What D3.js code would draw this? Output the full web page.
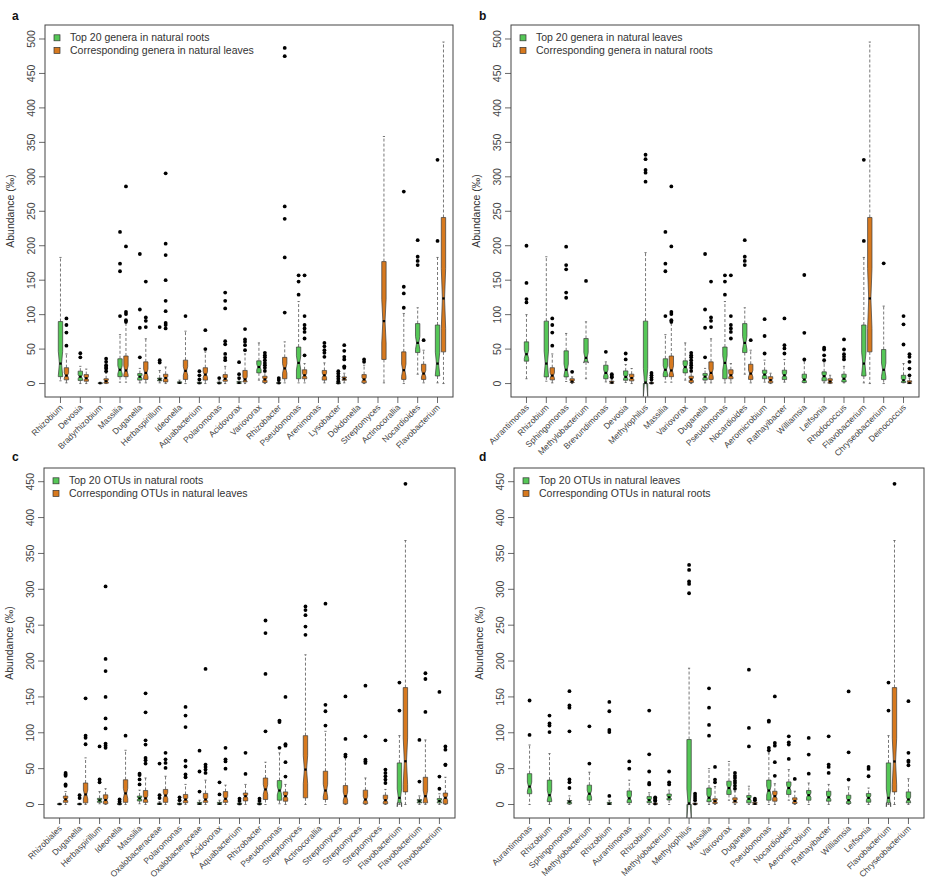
<!DOCTYPE html>
<html><head><meta charset="utf-8">
<script src="https://cdn.jsdelivr.net/npm/d3@7/dist/d3.min.js"></script>
<style>
body{margin:0;background:#fff;}
svg{display:block;font-family:"Liberation Sans",Arial,Helvetica,sans-serif;}
</style></head>
<body>
<svg id="chart" width="936" height="891"></svg>
<script>
// ---------- DATA: each box = [lowerWhisker, Q1, median, Q3, upperWhisker, [outliers]] ----------
const catsA = ["Rhizobium","Devosia","Bradyrhizobium","Massilia","Duganella","Herbaspirillum","Ideonella","Aquabacterium","Polaromonas","Acidovorax","Variovorax","Rhizobacter","Pseudomonas","Arenimonas","Lysobacter","Dokdonella","Streptomyces","Actinocorallia","Nocardioides","Flavobacterium"];
const greenA = [
 [4,10,29,90,183,[]],[0,4.5,10,18,25,[44,38]],[0,0,0.5,1,2,[]],[2,10,20,36,71,[220,174,163,98]],
 [1,5,10,14.5,22,[188,107.5,81,38]],[1,4,6,8,19,[82,34,30.5]],[0,0.5,1,2.5,5,[]],[0,0,0.5,2,4,[18,12,6]],
 [0,0,0.5,2,4,[8]],[0,0,1,3,6,[31,13.6,8]],[5,15.5,24,33,59,[]],[0,0,0.5,1.5,3,[8,5]],
 [1,7,30,53,119,[157,148,129]],null,[0,0,0.5,1,2,[18,14.5,10.7,7,3.4]],null,
 null,null,[13.6,45,59,87,110,[208,184,178,172]],[1,11,29,85,183,[324.6,207]]
];
const orangeA = [
 [1,5.4,11.6,23,43,[94.5,85,74,55]],[0,3.4,7.7,13,21,[]],[0,0.5,3.4,7,15,[36,31.5,26.6,24,22,18]],[2,10,19,40,87,[286,199,104,100.8,92,89.6]],
 [1,6,15.5,31.5,65,[148,96,91,82]],[0,2.4,8,13.5,24,[305,203,186.5,150,120,105,88,85,80]],[0,6,18.4,34,76,[98]],[0,5,13,23,46,[77.5,50]],
 [0,3.4,7,13,25,[132,120,109,61.5,57,43,37.3,34]],[0,2.4,6,19,43,[79,64,60.5,55.7,48.4]],[0,1.5,6,10.7,17,[44.6,41,38,34,30,26.6,22.8,18.4]],[1,7,22,38,60.5,[487,475,257,239,183,103]],
 [1,7,12,20,29,[157,98,85,80,75,65.4,41]],[1,5,12,19,30,[59,54,48.4,44.6,38.8]],[1,4.8,7,9.7,15,[55.7,47.5,38.8,35,25,22.8]],[0,1,6,13,26.6,[35,31.5]],
 [1,35,90.6,177,358.5,[]],[0,6,19.4,46,101.7,[278.6,140.5,130.8,110]],[1,6,14.5,28,48.4,[63]],[0,46,123.5,241,495.6,[]]
];

const catsB = ["Aurantimonas","Rhizobium","Sphingomonas","Methylobacterium","Brevundimonas","Devosia","Methylophilus","Massilia","Variovorax","Duganella","Pseudomonas","Nocardioides","Aeromicrobium","Rathayibacter","Williamsia","Leifsonia","Rhodococcus","Flavobacterium","Chryseobacterium","Deinococcus"];
const greenB = [
 [7,32.5,42.6,60.5,100,[200,146,122.6,117.7]],[3.4,9.7,29,90.6,184,[]],[3,9.7,20,47.5,72.7,[198.6,172,165.7,132,124.5]],[7,31.5,37.3,65.4,89.6,[149]],
 [2.4,7,15.5,26.6,31.5,[46]],[1.5,4.8,9.7,18.4,27.6,[43.6,35]],[0,0,1.5,90.6,190,[332,325.6,310,306,293]],[2,10,20,36,71,[220,174,163,98]],
 [5,15.5,24,33,59,[]],[1,5,10,14.5,22,[188,107.5,81,38]],[1,7,30,53,119,[157,148,129]],[13.6,45,59,87,110,[208,184,178,172]],
 [2,7,13,19.4,34,[93.5,69,43.6]],[2,5.8,12,19.4,35,[94.5,55.7,51,43.6]],[1,1.5,5.8,13.6,32.5,[157.5,73.6,35]],[1,4,10.7,17,30,[52,49.4,41,34]],
 [1,2.4,7,13.6,25,[64,49.4,42.6,38.8,35]],[1,11,29,85,183,[324.6,207]],[0,5.8,20,49.4,112.4,[174.4]],[1,1.5,4.8,12,29,[98,86,56.7]]
];
const orangeB = [
 null,[1,5.4,11.6,23,43,[94.5,85,74,55]],[0,1.5,3,7,9.7,[17]],null,
 [0,0.5,1.5,3.5,6,[13.5,11,9]],[0,3.9,8,13.6,21.8,[]],[0,0,0.5,1.5,3,[15.5,12,8.7,5.8]],[2,10,19,40,87,[286,199,104,100.8,92,89.6]],
 [0,1.5,6,10.7,17,[44.6,41,38,34,30,26.6,22.8,18.4]],[1,6,15.5,31.5,65,[148,96,91,82]],[1,7,12,20,29,[157,98,85,80,75,65.4]],[1,6,14.5,28,48.4,[63]],
 [0,1,5,10,15,[]],null,null,[0,0.5,3,7,12,[]],
 null,[0,46,123.5,241,495.6,[]],null,[0,0,1,4,8,[42.6,38.8,31.5,21.8,12]]
];

const catsC = ["Rhizobiales","Duganella","Herbaspirillum","Ideonella","Massilia","Oxalobacteraceae","Polaromonas","Oxalobacteraceae","Acidovorax","Aquabacterium","Rhizobacter","Pseudomonas","Streptomyces","Actinocorallia","Streptomyces","Streptomyces","Streptomyces","Flavobacterium","Flavobacterium","Flavobacterium"];
const greenC = [
 [0,0,0.5,1,2,[]],[0,0,0.5,1,2,[13,9]],[1,3,5.8,8.6,18,[81,35,31]],[0,0,0.5,1.5,3,[7,4]],
 [1,4.9,8.6,11.8,20,[43,41,35,28]],[0,0,1,2,4,[57,13,9]],[0,0,0.5,2,4,[10,6]],[0,0,1,3,6,[75,46,18]],
 [0,0,1,3,6,[31,14]],[0,0,0.5,2,4,[8,5]],[0,0,0.5,2,4,[8,5]],[1,6,19.5,33.4,72,[117,115,79]],
 null,null,null,null,
 null,[0,2.3,9.3,58,96,[170,131]],[0,2.3,4.6,7,12,[90,32]],[0,2.3,5,8.3,15,[157,39,22]]
];
const orangeC = [
 [0,3,7.2,11.8,18,[44,42,40,28,26]],[0,2.3,14,30,65,[148,96,93,84]],[0,1,6.3,13.5,22,[304,203,186,150,120,106,85,82,79]],[0,3,15.5,34.5,75.6,[96]],
 [0,3,8.6,19.5,37,[155,128.5,89.5,83.5,65,61.7,57]],[0,3,12.5,21,39.4,[72,63,58,51]],[0,2.5,7,14,28,[136,124,108,61,53,42,38]],[0,3,7,15.5,34,[189,55.7,52.4,48.7,44]],
 [0,3,8,18,27,[79,63,60,50]],[0,5,11.6,16,28,[72,42.7]],[0,7,21,37,59,[256.5,239,182,102]],[0,4.6,11.6,17.6,28,[150,84,82,59,39]],
 [0,9.3,48.7,96,208.7,[276,271,264,248,236.5]],[0,7,19.5,46.4,102,[280,139,130,110]],[0,1,11.6,26.4,65,[150.7,91.4,69.6,67]],[0,1,7,20,37,[165.6,95,62.6,60.3,58]],
 [0,1,6,13,21,[89.5,48.7,44,39.4,34.8,30]],[0,17.6,60.3,163,368,[447]],[0,2.3,11.6,38,90,[183,175,129]],[0,1,9.3,16,38,[81,76.5,55.7,55]]
];

const catsD = ["Aurantimonas","Rhizobium","Sphingomonas","Methylobacterium","Rhizobium","Aurantimonas","Rhizobium","Methylobacterium","Methylophilus","Massilia","Variovorax","Duganella","Pseudomonas","Nocardioides","Aeromicrobium","Rathayibacter","Williamsia","Leifsonia","Flavobacterium","Chryseobacterium"];
const greenD = [
 [0,15,25,43,83,[145,97]],[0,4,13,34,71,[124,113,110,101]],[0,1,3.9,5.6,12,[158,138,135,102,35,31,23]],[0,6,15,27,45,[109,57]],
 [0,0,1,3,6,[143,130,104,101,12]],[0,2.5,8.6,19,34,[60,50]],[0,2.5,6,11,16.4,[131,70,46,30,28]],[0,6.3,10,14.6,20,[46,31,28]],
 [0,0,1.5,90.6,190,[334,327,311,307.5,294.5]],[0,4,9.5,23,50,[162,135,111,96]],[6,14,23,32.5,60,[]],[0,2.3,8,12.5,25.5,[188,106.7,81]],
 [0,6,19.5,34,72,[117,115.5,79,75.6]],[6,14,23,31.5,48.7,[95,86.7,83.5,63.5]],[0,6,13,19.5,30,[92.8,69.6,43]],[0,4.6,10,18.5,28,[95,55.7,52.4,44]],
 [0,1.4,6,13,24.6,[157.7,72.8,34.8]],[0,3.2,9.3,15.3,23,[52.4,49.6,39.4]],[0,2.3,9.3,58,96,[170,131]],[0,2.3,7,17.6,36,[144,72,61,59.4,54.7]]
];
const orangeD = [
 null,null,null,null,
 null,null,[0,0,0.5,2,4,[10,8,6,5]],null,
 [0,0,0.5,2,4,[15,12,9,6]],[0,1.4,4.6,8,25,[52.4,34.8,31]],[0,2.3,5,9.3,18,[44,40,37,33,30,26,22]],[0,0,1,3,5,[8,6]],
 [0,4.6,11.6,18.5,29,[150.7,85.8,82,59,40]],[0,1.4,5,9.3,18.5,[35.7]],null,null,
 null,null,[0,17.6,60,163,368,[447]],null
];

const legendA = ["Top 20 genera in natural roots","Corresponding genera in natural leaves"];
const legendB = ["Top 20 genera in natural leaves","Corresponding genera in natural roots"];
const legendC = ["Top 20 OTUs in natural roots","Corresponding OTUs in natural leaves"];
const legendD = ["Top 20 OTUs in natural leaves","Corresponding OTUs in natural roots"];
const ticksAB = [0,50,100,150,200,250,300,350,400,450,500];
const ticksCD = [0,50,100,150,200,250,300,350,400,450];
const sampleSize = 50;   // samples per box (used for notch width)
const yTitle = "Abundance (‰)";

// ---------- LAYOUT ----------
const GREEN = "#55c757", ORANGE = "#d7791e";
const panels = [
 {letter:"a", cats:catsA, g:greenA, o:orangeA, leg:legendA, ticks:ticksAB, x0:45, x1:453, y0:25, y1:397, ydom:[-19.5,520.3], lx:12, ly:20},
 {letter:"b", cats:catsB, g:greenB, o:orangeB, leg:legendB, ticks:ticksAB, x0:511, x1:919, y0:25, y1:397, ydom:[-19.5,520.3], lx:479, ly:20},
 {letter:"c", cats:catsC, g:greenC, o:orangeC, leg:legendC, ticks:ticksCD, x0:44, x1:455, y0:468, y1:818, ydom:[-18.8,469.1], lx:12, ly:461},
 {letter:"d", cats:catsD, g:greenD, o:orangeD, leg:legendD, ticks:ticksCD, x0:514, x1:924, y0:468, y1:818, ydom:[-18.8,469.1], lx:479, ly:461}
];

const svg = d3.select("#chart");
svg.append("rect").attr("width",936).attr("height",891).attr("fill","#fff");

panels.forEach((p, pi) => {
  const x = d3.scaleLinear().domain([0.22, 20.78]).range([p.x0, p.x1]);
  const y = d3.scaleLinear().domain(p.ydom).range([p.y1, p.y0]);
  const hw = x(0.11) - x(0);
  const G = svg.append("g");
  const clipId = "clip" + pi;
  G.append("clipPath").attr("id", clipId).append("rect")
    .attr("x", p.x0).attr("y", p.y0).attr("width", p.x1 - p.x0).attr("height", p.y1 - p.y0);
  const plot = G.append("g").attr("clip-path", `url(#${clipId})`);

  function drawBox(s, cx, fill) {
    if (!s) return;
    const [lo, q1, med, q3, hi, outs] = s;
    const nh = 1.58 * (q3 - q1) / Math.sqrt(sampleSize);
    const nlo = med - nh, nhi = med + nh;
    const bg = plot.append("g");
    // whiskers
    [[q1, lo], [q3, hi]].forEach(([a, b]) => {
      if (a === b) return;
      bg.append("line").attr("x1", cx).attr("x2", cx).attr("y1", y(a)).attr("y2", y(b))
        .attr("stroke", "#555").attr("stroke-width", 0.8).attr("stroke-dasharray", "3,2");
    });
    [lo, hi].forEach(v => {
      bg.append("line").attr("x1", cx - hw * 0.5).attr("x2", cx + hw * 0.5).attr("y1", y(v)).attr("y2", y(v))
        .attr("stroke", "#555").attr("stroke-width", 0.8);
    });
    // notched box (R bxp style)
    const xx = [-1, 1, 1, 0.5, 1, 1, -1, -1, -0.5, -1].map(k => cx + k * hw);
    const yy = [q1, q1, nlo, med, nhi, q3, q3, nhi, med, nlo].map(v => y(v));
    bg.append("polygon").attr("points", xx.map((v, i) => v + "," + yy[i]).join(" "))
      .attr("fill", fill).attr("stroke", "#3a3a3a").attr("stroke-width", 0.7).attr("stroke-linejoin", "round");
    bg.append("line").attr("x1", cx - hw * 0.55).attr("x2", cx + hw * 0.55).attr("y1", y(med)).attr("y2", y(med))
      .attr("stroke", "#000").attr("stroke-width", 2.2);
    // outliers
    bg.selectAll("circle.o").data(outs).enter().append("circle")
      .attr("cx", cx).attr("cy", d => y(d)).attr("r", 1.9).attr("fill", "#000");
  }

  p.cats.forEach((c, i) => {
    drawBox(p.g[i], x(i + 1), GREEN);
    drawBox(p.o[i], x(i + 1.3), ORANGE);
  });

  // frame
  G.append("rect").attr("x", p.x0).attr("y", p.y0).attr("width", p.x1 - p.x0).attr("height", p.y1 - p.y0)
    .attr("fill", "none").attr("stroke", "#444").attr("stroke-width", 1);

  // y axis
  p.ticks.forEach(t => {
    G.append("line").attr("x1", p.x0 - 6).attr("x2", p.x0).attr("y1", y(t)).attr("y2", y(t))
      .attr("stroke", "#444").attr("stroke-width", 0.8);
    G.append("text").attr("transform", `translate(${p.x0 - 10},${y(t)}) rotate(-90)`)
      .attr("text-anchor", "middle").attr("font-size", 10.5).attr("fill", "#444").text(t);
  });
  G.append("text").attr("transform", `translate(${p.x0 - 31},${(p.y0 + p.y1) / 2}) rotate(-90)`)
    .attr("text-anchor", "middle").attr("font-size", 10.5).attr("fill", "#333").text(yTitle);

  // x axis
  p.cats.forEach((c, i) => {
    const tx = x(i + 1);
    G.append("line").attr("x1", tx).attr("x2", tx).attr("y1", p.y1).attr("y2", p.y1 + 6)
      .attr("stroke", "#444").attr("stroke-width", 0.8);
    G.append("text").attr("transform", `translate(${tx + 3},${p.y1 + 11}) rotate(-45)`)
      .attr("text-anchor", "end").attr("font-size", 8.5).attr("fill", "#444").text(c);
  });

  // legend
  p.leg.forEach((t, k) => {
    const ry = p.y0 + 12.8 + k * 12.6;
    G.append("rect").attr("x", p.x0 + 9).attr("y", ry - 3).attr("width", 6).attr("height", 6)
      .attr("fill", k === 0 ? GREEN : ORANGE).attr("stroke", "#333").attr("stroke-width", 0.7);
    G.append("text").attr("x", p.x0 + 25).attr("y", ry + 3.6).attr("font-size", 10.5).attr("fill", "#333").text(t);
  });

  // panel letter
  G.append("text").attr("x", p.lx).attr("y", p.ly).attr("font-size", 12).attr("font-weight", "bold")
    .attr("fill", "#111").text(p.letter);
});
</script>
</body></html>
